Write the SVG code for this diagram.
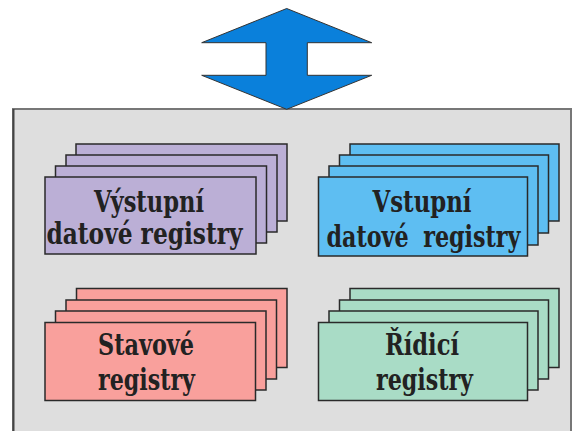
<svg xmlns="http://www.w3.org/2000/svg" width="573" height="431" viewBox="0 0 573 431">
<style>
.pg rect{stroke:#2a2a2a;stroke-width:1.5}
.purple rect{fill:#BBAFD6}
.blue rect{fill:#5EBEF2}
.pink rect{fill:#F9A09C}
.green rect{fill:#A9DCC6}
text{font-family:'DejaVu Serif','Liberation Serif',serif;font-stretch:condensed;font-weight:bold;font-size:29px;fill:#222;text-anchor:middle}
</style>
<rect x="0" y="0" width="573" height="431" fill="#ffffff"/>
<g id="frame">
<rect x="13" y="109" width="558" height="330" fill="#DEDEDE" stroke="#777" stroke-width="2"/>
<line x1="13.5" y1="109" x2="13.5" y2="431" stroke="#444" stroke-width="2"/>
</g>
<g id="arrow">
<polygon points="286.7,8.5 371.7,42.7 307.3,42.7 307.3,75.3 371.7,75.3 286.7,109.3 201.7,75.3 266,75.3 266,42.7 201.7,42.7" fill="#0A80DB" stroke="#333" stroke-width="1"/>
</g>
<g id="vystupni" class="pg purple">
<rect x="76" y="144" width="211" height="77"/>
<rect x="66" y="155" width="211" height="77"/>
<rect x="55.5" y="166" width="211" height="77"/>
<rect x="45" y="177" width="211" height="77"/>
<text x="149" y="212" textLength="110" lengthAdjust="spacingAndGlyphs">Výstupní</text>
<text x="144.5" y="244" textLength="196" lengthAdjust="spacingAndGlyphs">datové registry</text>
</g>
<g id="vstupni" class="pg blue">
<rect x="350" y="144" width="209" height="77"/>
<rect x="339.5" y="155" width="209" height="78"/>
<rect x="329" y="166" width="209" height="79"/>
<rect x="318.5" y="177" width="209" height="79"/>
<text x="422" y="212" textLength="99" lengthAdjust="spacingAndGlyphs">Vstupní</text>
<text x="423.5" y="247" textLength="194" lengthAdjust="spacingAndGlyphs" word-spacing="8">datové registry</text>
</g>
<g id="stavove" class="pg pink">
<rect x="76.5" y="288.5" width="210.5" height="79"/>
<rect x="66" y="300" width="210.5" height="79"/>
<rect x="55.5" y="311" width="210.5" height="79"/>
<rect x="45" y="322.5" width="210.5" height="78"/>
<text x="146" y="355" textLength="96" lengthAdjust="spacingAndGlyphs">Stavové</text>
<text x="146.5" y="390" textLength="97" lengthAdjust="spacingAndGlyphs">registry</text>
</g>
<g id="ridici" class="pg green">
<rect x="350" y="288.5" width="209" height="79"/>
<rect x="339.5" y="300" width="209" height="79"/>
<rect x="329" y="311" width="209" height="79"/>
<rect x="318.5" y="322.5" width="209" height="78"/>
<text x="422" y="355" textLength="74" lengthAdjust="spacingAndGlyphs">Řídicí</text>
<text x="424.5" y="390" textLength="97" lengthAdjust="spacingAndGlyphs">registry</text>
</g>
</svg>
